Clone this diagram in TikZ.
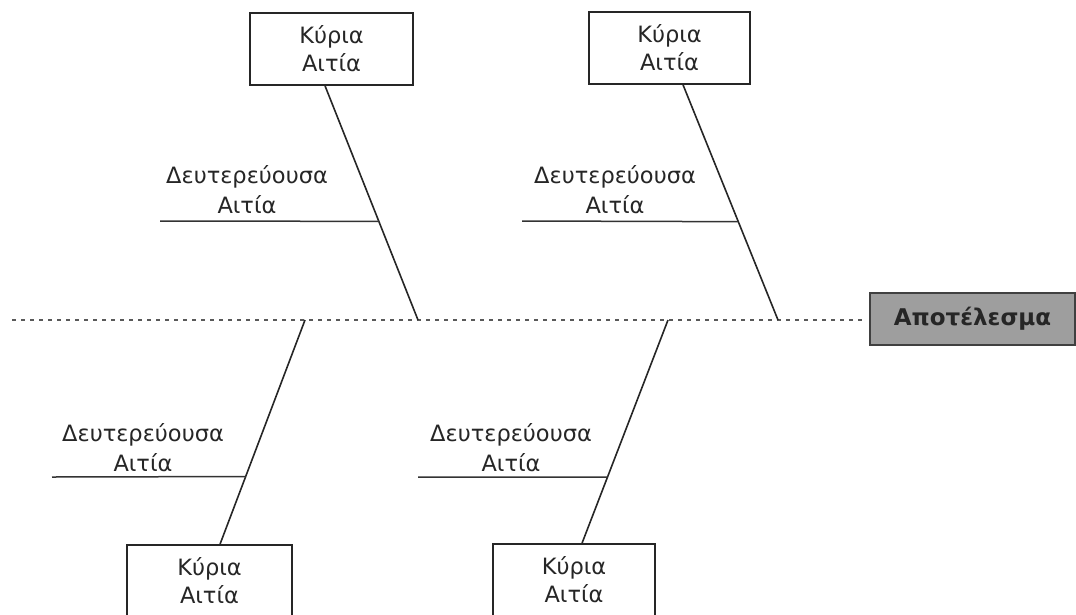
\documentclass[tikz,border=0pt]{standalone}
\usepackage{fontspec}
\setmainfont{DejaVu Sans}
\begin{document}
\begin{tikzpicture}[x=1pt,y=-1pt,
  every node/.style={inner sep=0pt},
  causebox/.style={draw=black!85, line width=1.5pt, minimum width=163pt, minimum height=72pt, align=center, font=\fontsize{22.5}{28}\selectfont, text=black!85},
  bone/.style={draw=black!85, line width=1.6pt},
  subbone/.style={draw=black!80, line width=1.5pt},
  sublabel/.style={align=center, font=\fontsize{22.5}{30}\selectfont, text=black!85},
  spine/.style={draw=black!65, line width=1.3pt, dash pattern=on 3.5pt off 5.5pt},
  effect/.style={draw=black!75, line width=1.4pt, fill=black!38, minimum width=205pt, minimum height=52pt, font=\bfseries\fontsize{23}{28}\selectfont, text=black!85}]
\useasboundingbox (0,0) rectangle (1076,614);
% spine
\coordinate (sp0) at (12,320);
\coordinate (sp1) at (862,320);
\draw[spine] (sp0) -- (sp1);
\node[effect] (eff) at (972.5,319) {Αποτέλεσμα};
% main cause boxes
\node[causebox] (tl) at (331.5,49) {Κύρια\\Αιτία};
\node[causebox, minimum width=161pt] (tr) at (669.5,48) {Κύρια\\Αιτία};
\node[causebox, minimum width=165pt] (bl) at (209.5,581) {Κύρια\\Αιτία};
\node[causebox, minimum width=162pt] (br) at (574,580) {Κύρια\\Αιτία};
% spine points
\coordinate (s1) at (418,320);
\coordinate (s2) at (778,320);
\coordinate (s3) at (305,320);
\coordinate (s4) at (668,320);
% main bones
\draw[bone] ([xshift=-6.5pt]tl.south) -- (s1) coordinate[pos=0.579] (j1);
\draw[bone] ([xshift=13.5pt]tr.south) -- (s2) coordinate[pos=0.582] (j2);
\draw[bone] (s3) -- ([xshift=10.5pt]bl.north) coordinate[pos=0.698] (j3);
\draw[bone] (s4) -- ([xshift=8pt]br.north) coordinate[pos=0.704] (j4);
% secondary bones
\coordinate (e1) at (160,221);
\coordinate (e2) at (522,221);
\coordinate (e3) at (52,477);
\coordinate (e4) at (418,477);
\draw[subbone] (e1) -- (j1);
\draw[subbone] (e2) -- (j2);
\draw[subbone] (e3) -- (j3);
\draw[subbone] (e4) -- (j4);
% labels
\node[sublabel] (l1) at (247,190) {Δευτερεύουσα\\Αιτία};
\node[sublabel] (l2) at (615,190) {Δευτερεύουσα\\Αιτία};
\node[sublabel] (l3) at (143,448) {Δευτερεύουσα\\Αιτία};
\node[sublabel] (l4) at (511,448) {Δευτερεύουσα\\Αιτία};
\end{tikzpicture}
\end{document}
